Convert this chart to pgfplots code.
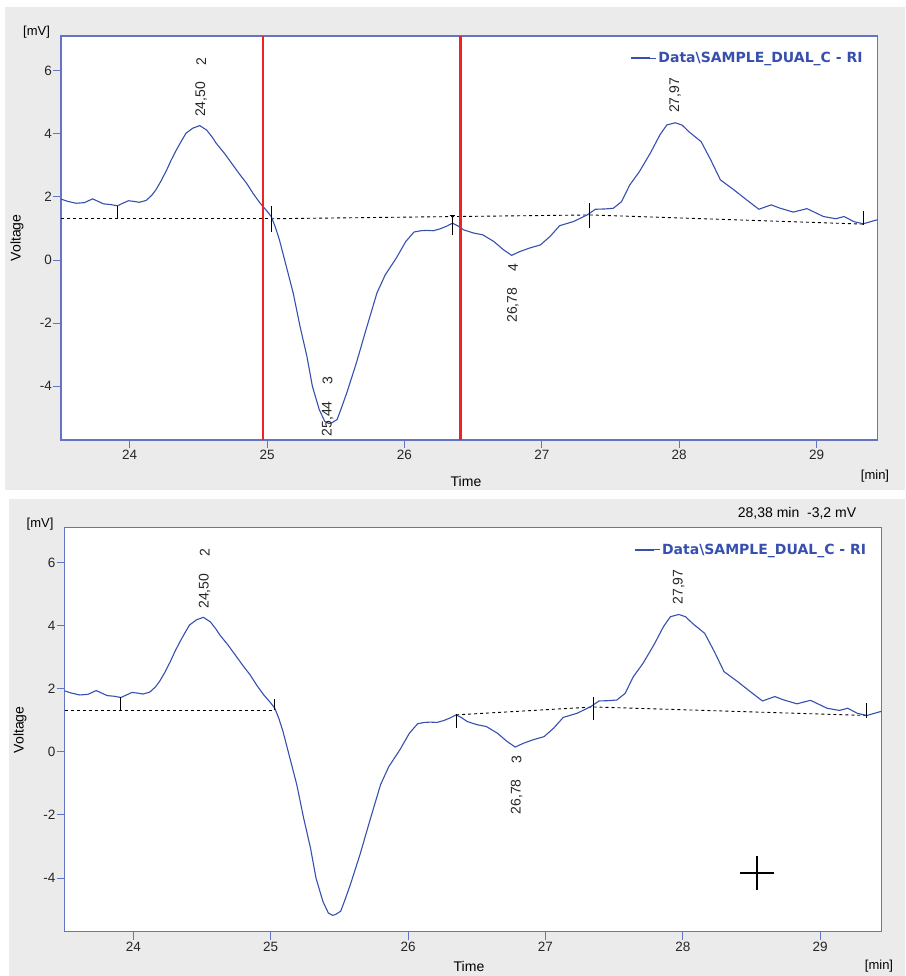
\documentclass[border=0pt]{standalone}
\usepackage{pgfplots}
\pgfplotsset{compat=1.18}
\usepackage{pgfplotstable}
\usepackage{fontspec}
\setmainfont{Liberation Sans}
\newfontfamily\legfont{DejaVu Sans}
\definecolor{curve}{RGB}{55,80,175}
\definecolor{frame}{RGB}{100,115,195}
\definecolor{panel}{RGB}{235,235,235}
\definecolor{cursorred}{RGB}{240,35,35}

\pgfplotstableread{
t v
23.50 1.93
23.55 1.86
23.61 1.80
23.67 1.82
23.73 1.94
23.77 1.86
23.81 1.78
23.86 1.76
23.91 1.72
23.95 1.80
23.99 1.88
24.03 1.86
24.07 1.83
24.12 1.89
24.16 2.05
24.19 2.22
24.23 2.52
24.27 2.86
24.30 3.15
24.34 3.49
24.38 3.80
24.41 4.02
24.46 4.18
24.51 4.26
24.56 4.12
24.60 3.90
24.63 3.70
24.69 3.38
24.75 3.02
24.80 2.72
24.85 2.44
24.90 2.10
24.95 1.80
25.00 1.55
25.03 1.38
25.06 1.05
25.09 0.64
25.14 -0.20
25.19 -1.04
25.24 -2.10
25.29 -3.05
25.33 -4.00
25.38 -4.74
25.42 -5.11
25.45 -5.18
25.47 -5.16
25.51 -5.05
25.54 -4.70
25.58 -4.21
25.65 -3.26
25.72 -2.21
25.80 -1.04
25.86 -0.47
25.94 0.06
26.01 0.59
26.07 0.89
26.12 0.93
26.16 0.94
26.21 0.93
26.26 0.99
26.31 1.08
26.35 1.17
26.39 1.08
26.43 0.96
26.50 0.86
26.57 0.80
26.65 0.59
26.72 0.33
26.78 0.15
26.84 0.27
26.91 0.38
26.99 0.48
27.06 0.75
27.13 1.09
27.23 1.22
27.33 1.43
27.39 1.61
27.46 1.62
27.52 1.64
27.58 1.85
27.64 2.38
27.71 2.80
27.79 3.39
27.86 3.97
27.91 4.28
27.97 4.35
28.02 4.28
28.07 4.07
28.16 3.75
28.23 3.17
28.30 2.54
28.40 2.22
28.49 1.91
28.58 1.61
28.67 1.75
28.73 1.65
28.83 1.52
28.93 1.63
29.05 1.38
29.14 1.31
29.20 1.38
29.27 1.22
29.34 1.15
29.42 1.25
29.445 1.28
}\signal

\pgfplotsset{
  chrom/.style={
    scale only axis, width=816.7pt, height=404pt,
    xmin=23.5, xmax=29.445, ymin=-5.7, ymax=7.1,
    axis line style={frame, line width=1.2pt},
    tick style={frame, line width=1pt},
    tick align=outside, major tick length=8pt,
    tick pos=left,
    xtick={24,25,26,27,28,29}, xticklabels={24,25,26,27,28,29},
    ytick={-4,-2,0,2,4,6}, yticklabels={-4,-2,0,2,4,6},
    tick label style={font=\fontsize{13.5pt}{15pt}\selectfont, text=black!85},
    yticklabel style={inner xsep=1pt},
    xticklabel style={inner ysep=2pt},
    axis background/.style={fill=white},
    legend style={at={(rel axis cs:1,1)}, anchor=north east, xshift=-10pt, yshift=-12pt,
      draw=none, fill=none, text=curve,
      font={\fontsize{14pt}{16pt}\legfont\bfseries}},
    legend image code/.code={\path (0pt,0pt) -- (25pt,0pt);\draw[#1, line width=1.4pt] (0pt,0pt) -- (19pt,0pt);},
    legend cell align=left,
  },
}
\tikzset{
  lbl/.style={rotate=90, anchor=west, inner sep=0pt, font=\fontsize{14pt}{16pt}\selectfont, text=black!85},
}

\begin{document}
\begin{tikzpicture}[font=\fontsize{14pt}{16pt}\selectfont]
\fill[white] (0,0) rectangle (905pt,976pt);
\path[use as bounding box] (0,0) rectangle (905pt,976pt);
\fill[panel] (5pt,486pt) rectangle (905pt,969pt);
\fill[panel] (9pt,0pt) rectangle (905pt,477pt);

% ---------------- top panel ----------------
\begin{axis}[chrom, at={(61pt,536pt)}, anchor=south west]
  \addplot[black, line width=0.9pt, dash pattern=on 3pt off 3pt, forget plot] coordinates {(23.5,1.31) (25.03,1.31)};
  \addplot[black, line width=0.9pt, dash pattern=on 3pt off 3pt, forget plot] coordinates {(25.03,1.31) (27.35,1.43)};
  \addplot[black, line width=0.9pt, dash pattern=on 3pt off 3pt, forget plot] coordinates {(27.35,1.43) (29.34,1.14)};
  \addplot[curve, line width=1.1pt] table[x=t, y=v] {\signal};
  \addlegendentry{Data\textbackslash SAMPLE\_DUAL\_C - RI}
  \addplot[black, line width=1pt, forget plot] coordinates {(23.91,1.31) (23.91,1.72)};
  \addplot[black, line width=1pt, forget plot] coordinates {(25.03,0.90) (25.03,1.70)};
  \addplot[black, line width=1pt, forget plot] coordinates {(26.35,0.78) (26.35,1.41)};
  \addplot[black, line width=1pt, forget plot] coordinates {(26.33,1.41) (26.37,1.41)};
  \addplot[black, line width=1pt, forget plot] coordinates {(27.35,1.02) (27.35,1.81)};
  \addplot[black, line width=1pt, forget plot] coordinates {(29.34,1.12) (29.34,1.54)};
  \addplot[cursorred, line width=2.6pt, forget plot] coordinates {(24.97,-5.7) (24.97,7.1)};
  \addplot[cursorred, line width=2.6pt, forget plot] coordinates {(26.41,-5.7) (26.41,7.1)};
  \node[lbl] at (axis cs:24.52,4.53) {24,50};
  \node[lbl] at (axis cs:24.52,6.17) {2};
  \node[lbl] at (axis cs:25.44,-5.59) {25,44};
  \node[lbl] at (axis cs:25.44,-3.95) {3};
  \node[lbl] at (axis cs:26.79,-1.99) {26,78};
  \node[lbl] at (axis cs:26.79,-0.37) {4};
  \node[lbl] at (axis cs:27.97,4.66) {27,97};
\end{axis}
\node[font=\fontsize{13pt}{15pt}\selectfont] at (36.5pt,944pt) {[mV]};
\node[rotate=90] at (17pt,738pt) {Voltage};
\node at (466pt,494pt) {Time};
\node[font=\fontsize{13pt}{15pt}\selectfont] at (875pt,500pt) {[min]};

% ---------------- bottom panel ----------------
\begin{axis}[chrom, at={(64.6pt,44.3pt)}, anchor=south west]
  \addplot[black, line width=0.9pt, dash pattern=on 3pt off 3pt, forget plot] coordinates {(23.5,1.31) (25.03,1.31)};
  \addplot[black, line width=0.9pt, dash pattern=on 3pt off 3pt, forget plot] coordinates {(26.35,1.17) (27.35,1.42)};
  \addplot[black, line width=0.9pt, dash pattern=on 3pt off 3pt, forget plot] coordinates {(27.35,1.42) (29.34,1.15)};
  \addplot[curve, line width=1.1pt] table[x=t, y=v] {\signal};
  \addlegendentry{Data\textbackslash SAMPLE\_DUAL\_C - RI}
  \addplot[black, line width=1pt, forget plot] coordinates {(23.91,1.31) (23.91,1.74)};
  \addplot[black, line width=1pt, forget plot] coordinates {(25.03,1.33) (25.03,1.68)};
  \addplot[black, line width=1pt, forget plot] coordinates {(26.35,0.76) (26.35,1.20)};
  \addplot[black, line width=1pt, forget plot] coordinates {(27.35,1.01) (27.35,1.74)};
  \addplot[black, line width=1pt, forget plot] coordinates {(29.34,1.08) (29.34,1.55)};
  \addplot[black, only marks, mark=+, mark size=17pt, mark options={line width=2pt}, forget plot] coordinates {(28.54,-3.83)};
  \node[lbl] at (axis cs:24.52,4.53) {24,50};
  \node[lbl] at (axis cs:24.52,6.17) {2};
  \node[lbl] at (axis cs:26.79,-1.99) {26,78};
  \node[lbl] at (axis cs:26.79,-0.37) {3};
  \node[lbl] at (axis cs:27.97,4.66) {27,97};
\end{axis}
\node[font=\fontsize{13pt}{15pt}\selectfont] at (40pt,452pt) {[mV]};
\node[rotate=90] at (20pt,246pt) {Voltage};
\node at (469pt,10pt) {Time};
\node[font=\fontsize{13pt}{15pt}\selectfont] at (879pt,10pt) {[min]};
\node at (797pt,463pt) {28,38 min\ \ -3,2 mV};
\end{tikzpicture}
\end{document}
